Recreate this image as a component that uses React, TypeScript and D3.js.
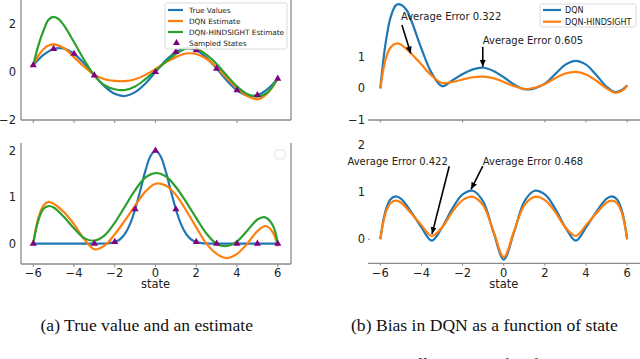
import React from "react";
import * as d3 from "d3";

type Pt = [number, number];

const BLUE = "#1f77b4";
const ORANGE = "#ff7f0e";
const GREEN = "#2ca02c";
const PURPLE = "#800080";

// ---- (a) top: true values, DQN estimate, DQN-HINDSIGHT estimate
const trueTop: Pt[] = [
  [-6, 0.28], [-5.5, 0.71], [-5, 0.96], [-4.5, 0.98], [-4, 0.76], [-3.5, 0.35], [-3, -0.14],
  [-2.5, -0.6], [-2, -0.91], [-1.5, -1.0], [-1, -0.84], [-0.5, -0.48], [0, 0], [0.5, 0.48],
  [1, 0.84], [1.5, 1.0], [2, 0.91], [2.5, 0.6], [3, 0.14], [3.5, -0.35], [4, -0.76],
  [4.5, -0.98], [5, -0.96], [5.5, -0.71], [6, -0.28],
];
const dqnTop: Pt[] = [
  [-6, 0.28], [-5.75, 0.68], [-5.5, 0.95], [-5.25, 1.1], [-5, 1.15], [-4.5, 1.0], [-4, 0.62],
  [-3.5, 0.22], [-3, -0.12], [-2.5, -0.3], [-2, -0.37], [-1.5, -0.38], [-1, -0.3], [-0.5, -0.12],
  [0, 0.12], [0.5, 0.4], [1, 0.62], [1.5, 0.77], [2, 0.75], [2.5, 0.55], [3, 0.2], [3.5, -0.25],
  [4, -0.68], [4.5, -1.0], [5, -1.14], [5.5, -0.88], [6, -0.28],
];
const hindTop: Pt[] = [
  [-6, 0.28], [-5.75, 1.1], [-5.5, 1.72], [-5.25, 2.18], [-5, 2.3], [-4.75, 2.2], [-4.5, 1.95],
  [-4, 1.25], [-3.5, 0.5], [-3, -0.15], [-2.5, -0.55], [-2, -0.72], [-1.5, -0.75], [-1, -0.6],
  [-0.5, -0.3], [0, 0.05], [0.5, 0.42], [1, 0.75], [1.5, 0.97], [2, 0.97], [2.5, 0.72], [3, 0.33],
  [3.5, -0.15], [4, -0.6], [4.5, -0.92], [5, -1.03], [5.5, -0.85], [6, -0.25],
];
const sampledTop: Pt[] = [
  [-6, 0.28], [-5, 0.96], [-4, 0.76], [-3, -0.14], [0, 0], [1, 0.84], [2, 0.91], [3, 0.14],
  [4, -0.76], [5, -0.96], [6, -0.28],
];

// ---- (a) bottom
const trueBot: Pt[] = [
  [-6, 0], [-5, 0], [-4, 0], [-3, 0], [-2.5, 0.004], [-2.25, 0.013], [-2, 0.037], [-1.75, 0.09],
  [-1.5, 0.21], [-1.25, 0.42], [-1, 0.74], [-0.75, 1.14], [-0.5, 1.56], [-0.25, 1.88], [0, 2.0],
  [0.25, 1.88], [0.5, 1.56], [0.75, 1.14], [1, 0.74], [1.25, 0.42], [1.5, 0.21], [1.75, 0.09],
  [2, 0.037], [2.25, 0.013], [2.5, 0.004], [3, 0], [4, 0], [5, 0], [6, 0],
];
const dqnBot: Pt[] = [
  [-6, 0], [-5.75, 0.55], [-5.5, 0.82], [-5.25, 0.9], [-5, 0.86], [-4.5, 0.68], [-4, 0.42],
  [-3.5, 0.1], [-3, -0.12], [-2.5, -0.04], [-2, 0.2], [-1.5, 0.5], [-1, 0.82], [-0.5, 1.12],
  [0, 1.29], [0.5, 1.25], [1, 1.05], [1.5, 0.72], [2, 0.35], [2.5, 0.0], [3, -0.22], [3.5, -0.31],
  [4, -0.22], [4.5, 0.0], [5, 0.27], [5.4, 0.38], [5.75, 0.25], [6, -0.06],
];
const hindBot: Pt[] = [
  [-6, 0], [-5.75, 0.5], [-5.5, 0.75], [-5.25, 0.81], [-5, 0.78], [-4.5, 0.58], [-4, 0.33],
  [-3.5, 0.12], [-3, 0.065], [-2.5, 0.18], [-2, 0.45], [-1.5, 0.8], [-1, 1.15], [-0.5, 1.42],
  [0, 1.52], [0.5, 1.45], [1, 1.22], [1.5, 0.9], [2, 0.55], [2.5, 0.22], [3, 0.0], [3.5, -0.05],
  [4, 0.05], [4.5, 0.28], [5, 0.52], [5.35, 0.57], [5.75, 0.4], [6, 0],
];
const sampledBot: Pt[] = [
  [-6, 0], [-3, 0], [-2, 0.04], [-1, 0.74], [0, 2.0], [1, 0.74], [2, 0.04], [3, 0], [4, 0],
  [5, 0], [6, 0],
];

// ---- (b) top: bias
const biasDqnTop: Pt[] = [
  [-6, 0], [-5.75, 1.4], [-5.5, 2.25], [-5.25, 2.62], [-5.1, 2.66], [-4.75, 2.5], [-4.5, 2.15],
  [-4, 1.25], [-3.5, 0.48], [-3, 0.07], [-2.5, 0.25], [-2, 0.45], [-1.5, 0.6], [-1, 0.65],
  [-0.5, 0.55], [0, 0.35], [0.5, 0.12], [1, -0.03], [1.5, 0.0], [2, 0.15], [2.5, 0.45], [3, 0.75],
  [3.5, 0.87], [4, 0.75], [4.5, 0.42], [5, 0.05], [5.4, -0.12], [5.75, -0.05], [6, 0.1],
];
const biasHindTop: Pt[] = [
  [-6, 0], [-5.75, 0.9], [-5.5, 1.3], [-5.2, 1.42], [-5, 1.38], [-4.5, 1.1], [-4, 0.75],
  [-3.5, 0.4], [-3, 0.17], [-2.5, 0.2], [-2, 0.28], [-1.5, 0.35], [-1, 0.37], [-0.5, 0.32],
  [0, 0.2], [0.5, 0.07], [1, -0.02], [1.5, 0.02], [2, 0.14], [2.5, 0.32], [3, 0.47], [3.5, 0.52],
  [4, 0.44], [4.5, 0.24], [5, 0.0], [5.4, -0.14], [5.75, -0.08], [6, 0.08],
];

// ---- (b) bottom
const biasDqnBot: Pt[] = [
  [-6, 0], [-5.75, 0.6], [-5.5, 0.85], [-5.25, 0.91], [-5, 0.86], [-4.5, 0.58], [-4, 0.25],
  [-3.5, -0.03], [-3, 0.25], [-2.5, 0.65], [-2, 0.95], [-1.5, 1.03], [-1, 0.8], [-0.5, 0.15],
  [0, -0.43], [0.5, 0.15], [1, 0.8], [1.5, 1.03], [2, 0.95], [2.5, 0.65], [3, 0.25], [3.5, -0.03],
  [4, 0.25], [4.5, 0.58], [5, 0.86], [5.25, 0.91], [5.5, 0.85], [5.75, 0.6], [6, 0],
];
const biasHindBot: Pt[] = [
  [-6, 0], [-5.75, 0.55], [-5.5, 0.77], [-5.25, 0.82], [-5, 0.78], [-4.5, 0.55], [-4, 0.3],
  [-3.5, 0.07], [-3, 0.25], [-2.5, 0.58], [-2, 0.83], [-1.5, 0.9], [-1, 0.72], [-0.5, 0.17],
  [0, -0.38], [0.5, 0.17], [1, 0.72], [1.5, 0.9], [2, 0.83], [2.5, 0.58], [3, 0.25], [3.5, 0.07],
  [4, 0.3], [4.5, 0.55], [5, 0.78], [5.25, 0.82], [5.5, 0.77], [5.75, 0.55], [6, 0],
];

// tick values
const xTicksAll = [-6, -4, -2, 0, 2, 4, 6];
const xTicksTopLeft = [-6, -4, -2, 0, 4];
const xTicksTopRight = [-6, -2, 2, 4, 6];
const yTicksTopLeft = [2, 0, -2];
const yTicksBotLeft = [2, 1, 0];
const yTicksTopRight = [1, 0, -1];
const yTicksBotRight = [2, 1, 0];

const legendLeft = ["True Values", "DQN Estimate", "DQN-HINDSIGHT Estimate", "Sampled States"];
const legendRight = ["DQN", "DQN-HINDSIGHT"];

// annotations: text, arrow target, text origin (data coords)
const annotTop = [
  { text: "Average Error 0.322", xy: [-4.52, 1.1], xytext: [-5.0, 2.17], tail: [-4.95, 2.0] },
  { text: "Average Error 0.605", xy: [-1.02, 0.68], xytext: [-1.02, 1.39], tail: [-1.02, 1.31] },
];
const annotBot = [
  { text: "Average Error 0.422", xy: [-3.49, 0.11], xytext: [-7.6, 1.58], tail: [-2.65, 1.55] },
  { text: "Average Error 0.468", xy: [-1.59, 1.06], xytext: [-1.02, 1.58], tail: [-1.02, 1.55] },
];

const FONT = "DejaVu Sans, sans-serif";
const fmt = (v: number) => (v < 0 ? "\u2212" + Math.abs(v) : String(v));

const xL = d3.scaleLinear().domain([-6.6, 6.6]).range([21, 290]);
const yTL = d3.scaleLinear().domain([-2, 3]).range([120, 0]);
const yBL = d3.scaleLinear().domain([-0.437, 2.166]).range([264, 143]);
const xR = d3.scaleLinear().domain([-6.6, 6.6]).range([368, 639.5]);
const yTR = d3.scaleLinear().domain([-1, 2.79]).range([120, 0]);
const yBR = d3.scaleLinear().domain([-0.51, 2]).range([263.3, 145]);

const SPINE = "#8a8a8a";

function path(data: Pt[], x: d3.ScaleLinear<number, number>, y: d3.ScaleLinear<number, number>) {
  return d3.line<Pt>().x(d => x(d[0])).y(d => y(d[1])).curve(d3.curveCatmullRom.alpha(0.5))(data) || "";
}

const tri = d3.symbol().type(d3.symbolTriangle).size(22)() || "";

export default function App() {
  const curve = (data: Pt[], color: string, x: any, y: any) => (
    <path d={path(data, x, y)} fill="none" stroke={color} strokeWidth={2.2} strokeLinejoin="round" />
  );
  const markers = (data: Pt[], x: any, y: any) =>
    data.map((d, i) => <path key={i} d={tri} transform={`translate(${x(d[0])},${y(d[1])})`} fill={PURPLE} />);

  const leftBox = (y: any, ticks: number[], xticks: number[], labels: boolean) => {
    const [b, t] = y.range();
    return (
      <g>
        <line x1={xL.range()[0]} x2={xL.range()[0]} y1={t} y2={b} stroke={SPINE} strokeWidth={1.3} />
        <line x1={xL.range()[1] + 1} x2={xL.range()[1] + 1} y1={t} y2={b} stroke={SPINE} strokeWidth={1.3} />
        <line x1={xL.range()[0]} x2={xL.range()[1] + 1} y1={b} y2={b} stroke={SPINE} strokeWidth={1.3} />
        {xticks.map(v => (
          <line key={v} x1={xL(v)} x2={xL(v)} y1={b} y2={b + 3} stroke={SPINE} strokeWidth={1} />
        ))}
        {ticks.map(v => (
          <text key={v} x={16} y={y(v)} dy="0.36em" textAnchor="end" fontSize={11.5} fontFamily={FONT} fill="#222">
            {fmt(v)}
          </text>
        ))}
        {labels &&
          xticks.map(v => (
            <text key={"l" + v} x={xL(v)} y={b + 8.5} dy="0.36em" textAnchor="middle" fontSize={11.5} fontFamily={FONT} fill="#222">
              {fmt(v)}
            </text>
          ))}
      </g>
    );
  };

  const rightAxis = (y: any, ticks: number[], xticks: number[], labels: boolean) => {
    const b = y.range()[0];
    return (
      <g>
        <line x1={xR.range()[0]} x2={640} y1={b} y2={b} stroke={SPINE} strokeWidth={1.3} />
        {xticks.map(v => (
          <line key={v} x1={xR(v)} x2={xR(v)} y1={b} y2={b + 2.5} stroke={SPINE} strokeWidth={1} />
        ))}
        {ticks.map(v => (
          <text key={v} x={365} y={y(v)} dy="0.36em" textAnchor="end" fontSize={11.5} fontFamily={FONT} fill="#222">
            {fmt(v)}
          </text>
        ))}
        {labels &&
          xticks.map(v => (
            <text key={"l" + v} x={xR(v)} y={b + 10} dy="0.36em" textAnchor="middle" fontSize={11.5} fontFamily={FONT} fill="#222">
              {fmt(v)}
            </text>
          ))}
      </g>
    );
  };

  const annots = (list: typeof annotTop, y: any) =>
    list.map((a, i) => (
      <g key={i}>
        <text x={xR(a.xytext[0])} y={y(a.xytext[1])} fontSize={10} fontFamily={FONT} fill="#222">
          {a.text}
        </text>
        <line
          x1={xR(a.tail[0])}
          y1={y(a.tail[1])}
          x2={xR(a.xy[0])}
          y2={y(a.xy[1])}
          stroke="#000"
          strokeWidth={1.6}
          markerEnd="url(#arrow)"
        />
      </g>
    ));

  return (
    <svg width={640} height={359} style={{ position: "absolute", left: 0, top: 0, background: "#fff" }}>
      <defs>
        <marker id="arrow" markerUnits="userSpaceOnUse" markerWidth={8} markerHeight={8} refX={7} refY={3} orient="auto">
          <path d="M0,0 L7,3 L0,6 z" fill="#000" />
        </marker>
      </defs>
      <rect width={640} height={359} fill="#fff" />

      {/* (a) top */}
      {leftBox(yTL, yTicksTopLeft, xTicksTopLeft, false)}
      {curve(trueTop, BLUE, xL, yTL)}
      {curve(dqnTop, ORANGE, xL, yTL)}
      {curve(hindTop, GREEN, xL, yTL)}
      {markers(sampledTop, xL, yTL)}
      <g>
        <rect x={165} y={3} width={122} height={46} rx={2} fill="#fff" fillOpacity={0.85} stroke="#d0d0d0" strokeWidth={0.8} />
        {legendLeft.map((lab, i) => {
          const cy = 10 + i * 11;
          const col = [BLUE, ORANGE, GREEN][i];
          return (
            <g key={lab}>
              {i < 3 ? (
                <line x1={168} x2={183} y1={cy} y2={cy} stroke={col} strokeWidth={2.2} />
              ) : (
                <path d={tri} transform={`translate(176.5,${cy})`} fill={PURPLE} />
              )}
              <text x={189} y={cy} dy="0.36em" fontSize={7.3} fontFamily={FONT} fill="#222">
                {lab}
              </text>
            </g>
          );
        })}
      </g>

      {/* (a) bottom */}
      {leftBox(yBL, yTicksBotLeft, xTicksAll, true)}
      {curve(trueBot, BLUE, xL, yBL)}
      {curve(dqnBot, ORANGE, xL, yBL)}
      {curve(hindBot, GREEN, xL, yBL)}
      {markers(sampledBot, xL, yBL)}
      <rect x={275} y={150} width={10} height={9} rx={2} fill="#fff" stroke="#e0e0e0" strokeWidth={0.8} />
      <text x={xL(0)} y={284} dy="0.36em" textAnchor="middle" fontSize={11.5} fontFamily={FONT} fill="#222">
        state
      </text>

      {/* (b) top */}
      {rightAxis(yTR, yTicksTopRight, xTicksTopRight, false)}
      {curve(biasDqnTop, BLUE, xR, yTR)}
      {curve(biasHindTop, ORANGE, xR, yTR)}
      {annots(annotTop, yTR)}
      <g>
        <rect x={540} y={4} width={96} height={23} rx={2} fill="#fff" fillOpacity={0.85} stroke="#d0d0d0" strokeWidth={0.8} />
        {legendRight.map((lab, i) => {
          const cy = 10 + i * 11.7;
          return (
            <g key={lab}>
              <line x1={543} x2={561} y1={cy} y2={cy} stroke={[BLUE, ORANGE][i]} strokeWidth={2.2} />
              <text x={565} y={cy} dy="0.36em" fontSize={8} fontFamily={FONT} fill="#222">
                {lab}
              </text>
            </g>
          );
        })}
      </g>

      {/* (b) bottom */}
      {rightAxis(yBR, yTicksBotRight, xTicksAll, true)}
      <line x1={368} x2={370} y1={yBR(0)} y2={yBR(0)} stroke={SPINE} strokeWidth={1} />
      {curve(biasDqnBot, BLUE, xR, yBR)}
      {curve(biasHindBot, ORANGE, xR, yBR)}
      {annots(annotBot, yBR)}
      <text x={xR(0)} y={284} dy="0.36em" textAnchor="middle" fontSize={11.5} fontFamily={FONT} fill="#222">
        state
      </text>

      {/* captions */}
      <text x={40.5} y={331} fontSize={17.6} fontFamily="Liberation Serif, Times New Roman, serif" fill="#111">
        (a) True value and an estimate
      </text>
      <text x={351} y={331} fontSize={17.6} fontFamily="Liberation Serif, Times New Roman, serif" fill="#111">
        (b) Bias in DQN as a function of state
      </text>
      <text x={344} y={370} fontSize={17.6} fontFamily="Liberation Serif, Times New Roman, serif" fill="#111">
        Figure 1: Illustration of Q-function estimates
      </text>
    </svg>
  );
}
